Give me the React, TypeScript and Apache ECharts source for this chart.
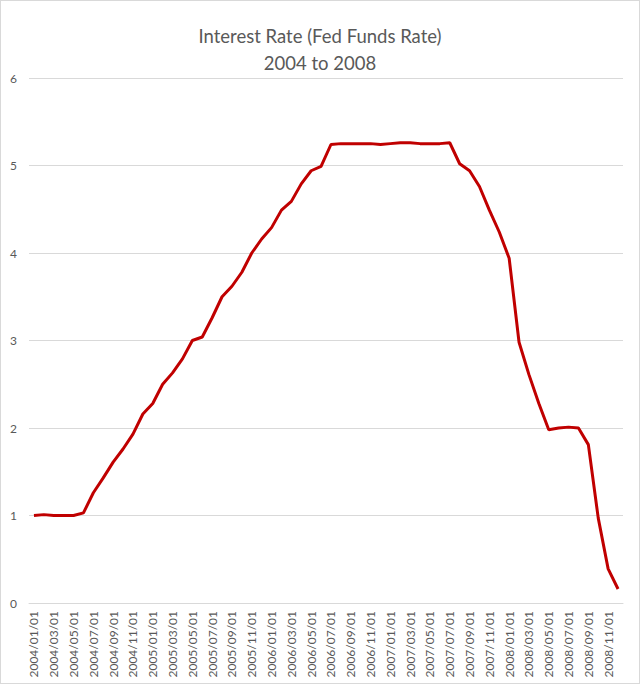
import React, { useEffect, useRef } from "react";
import * as echarts from "echarts";

const months: string[] = [];
for (let y = 2004; y <= 2008; y++) {
  for (let m = 1; m <= 12; m++) {
    months.push(`${y}/${String(m).padStart(2, "0")}/01`);
  }
}

const rates2004 = [1.0, 1.01, 1.0, 1.0, 1.0, 1.03, 1.26, 1.43, 1.61, 1.76, 1.93, 2.16];
const rates2005 = [2.28, 2.5, 2.63, 2.79, 3.0, 3.04, 3.26, 3.5, 3.62, 3.78, 4.0, 4.16];
const rates2006 = [4.29, 4.49, 4.59, 4.79, 4.94, 4.99, 5.24, 5.25, 5.25, 5.25, 5.25, 5.24];
const rates2007 = [5.25, 5.26, 5.26, 5.25, 5.25, 5.25, 5.26, 5.02, 4.94, 4.76, 4.49, 4.24];
const rates2008 = [3.94, 2.98, 2.61, 2.28, 1.98, 2.0, 2.01, 2.0, 1.81, 0.97, 0.39, 0.16];

const rates = [...rates2004, ...rates2005, ...rates2006, ...rates2007, ...rates2008];

const titleLine1 = "Interest Rate (Fed Funds Rate)";
const titleLine2 = "2004 to 2008";

export default function App() {
  const ref = useRef<HTMLDivElement>(null);
  useEffect(() => {
    document.body.style.margin = "0";
    const chart = echarts.init(ref.current!, null, { renderer: "svg" });
    chart.setOption({
      animation: false,
      backgroundColor: "#ffffff",
      title: {
        text: titleLine1 + "\n" + titleLine2,
        left: "center",
        top: 16,
        textStyle: {
          fontFamily: "Lato",
          fontWeight: "normal",
          fontSize: 18.5,
          color: "#595959",
          lineHeight: 27,
        },
      },
      grid: { left: 28, right: 16, top: 77, bottom: 80 },
      xAxis: {
        type: "category",
        data: months,
        boundaryGap: true,
        axisLine: { lineStyle: { color: "#d9d9d9", width: 1 } },
        axisTick: { show: false },
        axisLabel: {
          rotate: 90,
          interval: 1,
          color: "#595959",
          fontFamily: "Lato",
          fontSize: 12,
          margin: 8,
        },
      },
      yAxis: {
        type: "value",
        min: 0,
        max: 6,
        interval: 1,
        axisLine: { show: false },
        axisTick: { show: false },
        splitLine: { lineStyle: { color: "#d9d9d9", width: 1 } },
        axisLabel: {
          color: "#595959",
          fontFamily: "Lato",
          fontSize: 12,
          margin: 12,
        },
      },
      series: [
        {
          type: "line",
          data: rates,
          symbol: "none",
          lineStyle: { color: "#c00000", width: 3 },
        },
      ],
    });
    return () => chart.dispose();
  }, []);
  return (
    <div
      style={{
        width: 640,
        height: 684,
        boxSizing: "border-box",
        border: "1px solid #d9d9d9",
        position: "relative",
      }}
    >
      <div ref={ref} style={{ width: 638, height: 682 }} />
    </div>
  );
}
